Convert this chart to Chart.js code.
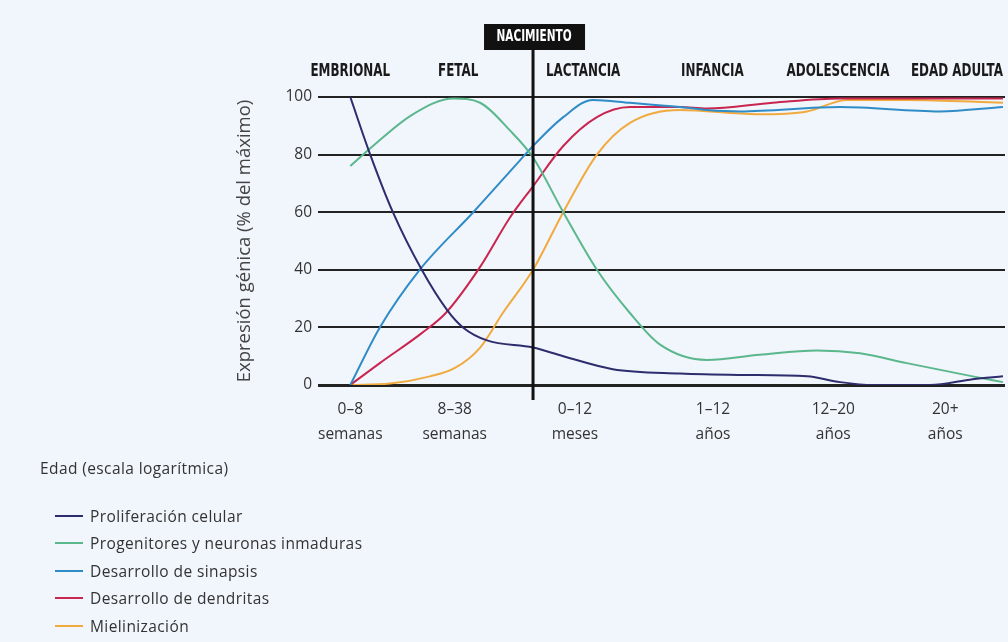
<!DOCTYPE html>
<html lang="es">
<head>
<meta charset="UTF-8">
<script src="https://cdn.jsdelivr.net/npm/chart.js"></script>
<style>
  body { margin: 0; background: #f1f5fc; font-family: 'Open Sans', sans-serif; }
  .wrap { position: relative; width: 1008px; height: 642px; }
  #chart { position: absolute; left: 0; top: 0; }
  .xtitle { position: absolute; left: 40px; top: 457px; font-size: 15.5px; letter-spacing: 0.4px; color: #333; }
  .legend { position: absolute; left: 55px; top: 502px; font-size: 15.5px; letter-spacing: 0.4px; color: #333; }
  .legend div { height: 27.5px; line-height: 22px; display: flex; align-items: center; }
  .legend span { display: inline-block; width: 28px; height: 2px; margin-right: 7px; }
</style>
</head>
<body>
<div class="wrap">
  <canvas id="chart" width="1008" height="642"></canvas>
  <div class="xtitle">Edad (escala logarítmica)</div>
  <div class="legend" id="legend"></div>
</div>
<script>
// eje de edad: posiciones relativas (0-100)
const tickPos = [4.7, 19.9, 37.4, 57.5, 75.0, 91.3];
const tickLabels = [['0–8', 'semanas'], ['8–38', 'semanas'], ['0–12', 'meses'], ['1–12', 'años'], ['12–20', 'años'], ['20+', 'años']];
const phasePos = [4.7, 20.4, 38.6, 57.4, 75.7, 93.0];
const phases = ['EMBRIONAL', 'FETAL', 'LACTANCIA', 'INFANCIA', 'ADOLESCENCIA', 'EDAD ADULTA'];
const birthPos = 31.3;

const names = ['Proliferación celular', 'Progenitores y neuronas inmaduras', 'Desarrollo de sinapsis', 'Desarrollo de dendritas', 'Mielinización'];
const colors = ['#2d2c6c', '#5bb78c', '#2f8cc6', '#c8264f', '#f1aa3e'];

// [posición, % del máximo]
const proliferacion = [[4.7,100],[7.6,80],[10.9,60],[15.1,40],[18.8,26],[21.1,20],[24.6,15.5],[31.3,13],[35.7,10],[42.9,5.5],[52.7,4],[61.4,3.5],[71.2,3],[76.0,1],[80.8,0],[89.1,0],[95.3,2],[99.7,3]];
const progenitores = [[4.7,76],[8.0,83],[13.8,94],[19.7,99.5],[23.6,98],[27.9,88.5],[31.3,79],[35.7,60],[40.6,40],[45.4,25],[49.8,14],[56.6,8.7],[64.3,10.5],[72.6,12],[78.9,11],[85.7,7.6],[95.3,3],[99.7,1]];
const sinapsis = [[4.7,0],[9.0,20],[14.8,40],[22.6,60],[29.4,78],[31.3,83],[35.7,93],[40.0,99],[45.4,98],[52.7,96.5],[56.6,95.5],[61.4,95],[76.0,96.5],[90.5,95],[99.7,96.5]];
const dendritas = [[4.7,0],[9.0,7.6],[15.1,18],[18.6,25],[23.6,41],[27.9,58],[31.3,69],[35.7,83],[40.6,93],[45.4,96.5],[52.7,96.5],[56.6,96],[66.2,98],[76.0,99.5],[99.7,99.5]];
const mielinizacion = [[4.7,0],[10.5,0.5],[16.3,3],[20.0,6],[23.6,13],[26.9,25],[31.3,40],[35.7,60],[40.6,80],[45.4,91],[52.7,95.5],[63.9,94],[71.2,95],[77.0,99],[85.7,99],[99.7,98]];
const series = [proliferacion, progenitores, sinapsis, dendritas, mielinizacion];

document.getElementById('legend').innerHTML = names.map((n, i) =>
  `<div><span style="background:${colors[i]}"></span>${n}</div>`).join('');

const overlay = {
  id: 'overlay',
  afterDraw(chart) {
    const ctx = chart.ctx, x = chart.scales.x;
    const bx = x.getPixelForValue(birthPos);
    ctx.save();
    ctx.strokeStyle = '#111';
    ctx.lineWidth = 3;
    ctx.beginPath();
    ctx.moveTo(bx, 45);
    ctx.lineTo(bx, 400);
    ctx.stroke();
    ctx.fillStyle = '#111';
    ctx.fillRect(bx - 49, 24, 101, 26);
    ctx.fillStyle = '#fff';
    ctx.textAlign = 'center';
    ctx.textBaseline = 'middle';
    ctx.font = "bold 15px 'Liberation Sans Narrow', 'DejaVu Sans Condensed', sans-serif";
    ctx.save();
    ctx.translate(bx + 1, 37);
    ctx.scale(0.78, 1);
    ctx.fillText('NACIMIENTO', 0, 0);
    ctx.restore();
    ctx.fillStyle = '#1a1a1a';
    ctx.font = "bold 17px 'Liberation Sans Narrow', 'DejaVu Sans Condensed', sans-serif";
    phases.forEach((p, i) => {
      ctx.save();
      ctx.translate(x.getPixelForValue(phasePos[i]), 72);
      ctx.scale(0.78, 1);
      ctx.fillText(p, 0, 0);
      ctx.restore();
    });
    ctx.restore();
  }
};

new Chart(document.getElementById('chart'), {
  type: 'line',
  data: {
    datasets: series.map((s, i) => ({
      label: names[i],
      data: s.map(p => ({ x: p[0], y: p[1] })),
      borderColor: colors[i],
      borderWidth: 2,
      pointRadius: 0,
      cubicInterpolationMode: 'monotone',
      fill: false
    }))
  },
  options: {
    responsive: false,
    animation: false,
    layout: { padding: { left: 230, right: 3, top: 97, bottom: 0 } },
    plugins: { legend: { display: false }, tooltip: { enabled: false } },
    scales: {
      x: {
        type: 'linear', min: 0, max: 100,
        afterBuildTicks: s => { s.ticks = tickPos.map(v => ({ value: v })); },
        afterFit: s => { s.height = 257; },
        grid: { display: false },
        border: { display: false },
        ticks: {
          autoSkip: false, maxRotation: 0, padding: 4, color: '#333',
          font: { family: "'Open Sans', sans-serif", size: 15.5, lineHeight: 1.62 },
          callback: (v, i) => tickLabels[i]
        }
      },
      y: {
        min: 0, max: 100,
        afterFit: s => { s.width = 318 - 230; },
        ticks: { stepSize: 20, color: '#333', padding: 6, font: { family: "'Open Sans', sans-serif", size: 15.5 } },
        grid: { color: '#222', lineWidth: c => c.tick && c.tick.value === 0 ? 3 : 2, drawTicks: false },
        border: { display: false },
        title: { display: true, text: 'Expresión génica (% del máximo)', color: '#444', padding: 4,
                 font: { family: "'Open Sans', sans-serif", size: 18.5 } }
      }
    }
  },
  plugins: [overlay]
});
</script>
</body>
</html>
